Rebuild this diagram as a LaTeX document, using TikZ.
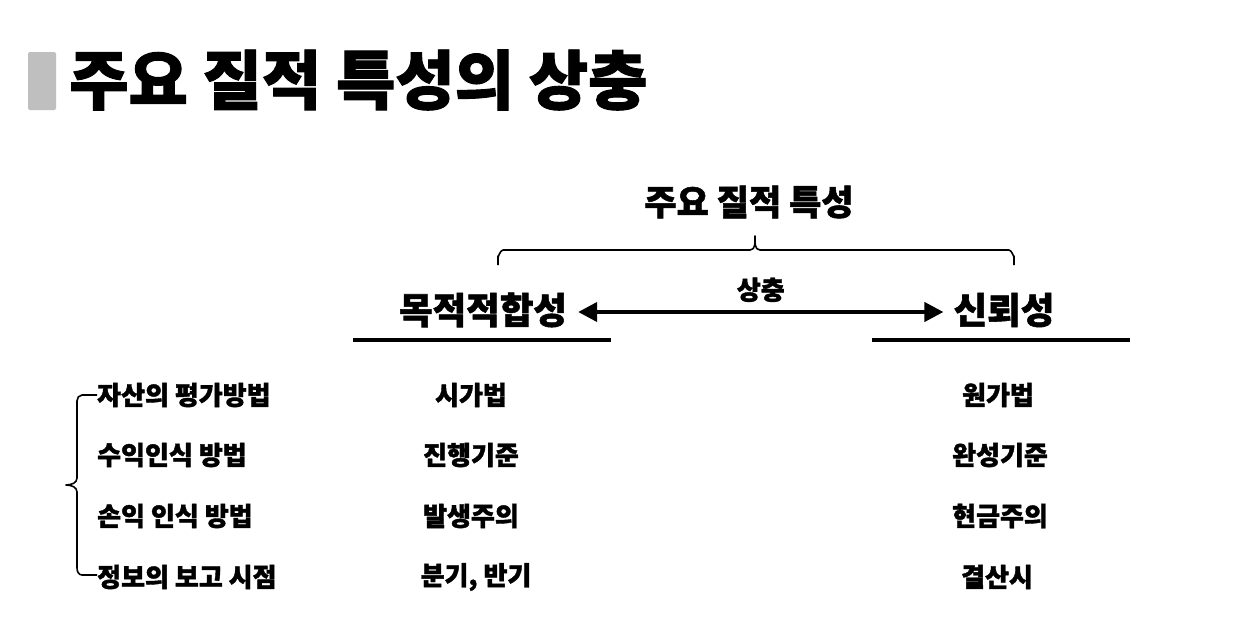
\documentclass[tikz,border=0pt]{standalone}
\usepackage{fontspec}
\newfontfamily\kr{Noto Sans CJK KR}[BoldFeatures={FakeBold=1.5}]
\usetikzlibrary{arrows.meta}
\begin{document}
\begin{tikzpicture}[x=1pt,y=-1pt,
  txt/.style={font=\kr\bfseries\fontsize{26}{28}\selectfont, inner sep=0pt},
  lbl/.style={txt, anchor=west},
  head/.style={font=\kr\bfseries\fontsize{36.5}{38}\selectfont, inner sep=0pt},
  rule/.style={line width=4pt}]
\useasboundingbox (0,0) rectangle (1242,637);
\fill[white] (0,0) rectangle (1242,637);
% title
\fill[gray!50, rounded corners=2pt] (28,52) rectangle (56,110);
\node[font=\kr\bfseries\fontsize{64.5}{66}\selectfont, inner sep=0pt, anchor=west] (title) at (69,80) {주요 질적 특성의 상충};
% top heading and brace
\node[font=\kr\bfseries\fontsize{35}{37}\selectfont, inner sep=0pt] (qc) at (749,202) {주요 질적 특성};
\draw[line width=1.6pt, line join=round] (498,265) -- (498,256) to[out=-90,in=180] (503,250) -- (750,250) to[out=0,in=-90] (755,236) to[out=-90,in=180] (760,250) -- (1009,250) to[out=0,in=-90] (1014,256) -- (1014,265);
% main columns
\node[head] (rel) at (483,310) {목적적합성};
\node[head] (fid) at (1004,310) {신뢰성};
\draw[line width=4pt, {Triangle[length=19pt,width=19pt]}-{Triangle[length=19pt,width=19pt]}] ([xshift=11pt,yshift=-2pt]rel.east) -- ([xshift=-10pt,yshift=-2pt]fid.west) node[midway, above=8pt, font=\kr\bfseries\fontsize{26}{28}\selectfont, inner sep=0pt] (tr) {상충};
\coordinate (u1a) at (353,340); \coordinate (u1b) at (611,340);
\coordinate (u2a) at (872,340); \coordinate (u2b) at (1130,340);
\draw[rule] (u1a) -- (u1b);
\draw[rule] (u2a) -- (u2b);
% left labels
\node[lbl] (l1) at (97,395) {자산의 평가방법};
\node[lbl] (l2) at (97,455) {수익인식 방법};
\node[lbl] (l3) at (97,516) {손익 인식 방법};
\node[lbl] (l4) at (97,577) {정보의 보고 시점};
\draw[line width=1.6pt, line join=round] (l1.west) -- (82,395) to[out=180,in=90] (77,401) -- (77,478) to[out=-90,in=0] (66,485) to[out=0,in=90] (77,492) -- (77,568) to[out=-90,in=180] (82,575) -- (l4.west |- 0,575);
% middle column
\node[txt] (m1) at (471,395) {시가법};
\node[txt] (m2) at (471,455) {진행기준};
\node[txt] (m3) at (471,516) {발생주의};
\node[txt] (m4) at (476,577) {분기, 반기};
% right column
\node[txt] (r1) at (998,395) {원가법};
\node[txt] (r2) at (1000,455) {완성기준};
\node[txt] (r3) at (1000,516) {현금주의};
\node[txt] (r4) at (997,577) {결산시};
\end{tikzpicture}
\end{document}
